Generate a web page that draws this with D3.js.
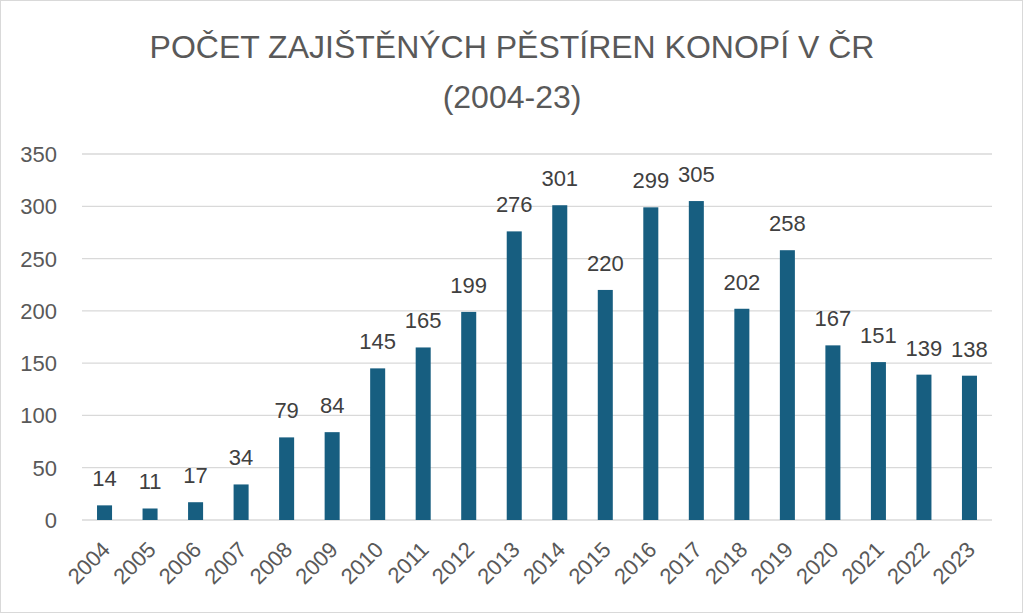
<!DOCTYPE html>
<html>
<head>
<meta charset="utf-8">
<script src="https://cdn.jsdelivr.net/npm/d3@7"></script>
<style>
  body { margin: 0; background: #fff; }
  svg { display: block; }
</style>
</head>
<body>
<svg id="chart" width="1024" height="615"></svg>
<script>
// chart data
var years = ["2004","2005","2006","2007","2008","2009","2010","2011","2012","2013",
             "2014","2015","2016","2017","2018","2019","2020","2021","2022","2023"];
var counts = [14, 11, 17, 34, 79, 84, 145, 165, 199, 276,
              301, 220, 299, 305, 202, 258, 167, 151, 139, 138];
var yTicks = [0, 50, 100, 150, 200, 250, 300, 350];
var titleLines = ["POČET ZAJIŠTĚNÝCH PĚSTÍREN KONOPÍ V ČR", "(2004-23)"];

var svg = d3.select("#chart");
var font = "'Liberation Sans', Arial, sans-serif";

// outer frame
svg.append("rect")
  .attr("x", 0.5).attr("y", 0.5)
  .attr("width", 1022).attr("height", 612)
  .attr("fill", "#fff")
  .attr("stroke", "#d9d9d9");

var plotLeft = 82, plotRight = 992, plotTop = 154, plotBottom = 520;

var xScale = d3.scaleBand().domain(years).range([plotLeft, plotRight]).paddingInner(0.67).paddingOuter(0.33);
var yScale = d3.scaleLinear().domain([0, 350]).range([plotBottom, plotTop]);

// title
svg.selectAll(".title").data(titleLines).enter().append("text")
  .attr("class", "title")
  .attr("x", 512)
  .attr("y", (d, i) => 58 + i * 50)
  .attr("text-anchor", "middle")
  .attr("font-family", font)
  .attr("font-size", 32)
  .attr("fill", "#595959")
  .text(d => d);

// grid
svg.append("g").selectAll("line").data(yTicks).enter().append("line")
  .attr("x1", plotLeft).attr("x2", plotRight)
  .attr("y1", d => yScale(d)).attr("y2", d => yScale(d))
  .attr("stroke", "#d9d9d9")
  .attr("stroke-width", 1.3);

// y labels
svg.append("g").selectAll("text").data(yTicks).enter().append("text")
  .attr("x", 57)
  .attr("y", d => yScale(d) + 8)
  .attr("text-anchor", "end")
  .attr("font-family", font)
  .attr("font-size", 22)
  .attr("fill", "#595959")
  .text(d => d);

// bars
var data = years.map((y, i) => ({ year: y, value: counts[i] }));
svg.append("g").selectAll("rect").data(data).enter().append("rect")
  .attr("x", d => xScale(d.year))
  .attr("y", d => yScale(d.value))
  .attr("width", xScale.bandwidth())
  .attr("height", d => plotBottom - yScale(d.value))
  .attr("fill", "#175e80");

// value labels
svg.append("g").selectAll("text").data(data).enter().append("text")
  .attr("x", d => xScale(d.year) + xScale.bandwidth() / 2)
  .attr("y", d => yScale(d.value) - 19)
  .attr("text-anchor", "middle")
  .attr("font-family", font)
  .attr("font-size", 22)
  .attr("fill", "#404040")
  .text(d => d.value);

// x labels
svg.append("g").selectAll("text").data(years).enter().append("text")
  .attr("transform", d => "translate(" + (xScale(d) + xScale.bandwidth() / 2 + 7) + "," + 551 + ") rotate(-45)")
  .attr("text-anchor", "end")
  .attr("font-family", font)
  .attr("font-size", 22)
  .attr("fill", "#595959")
  .text(d => d);
</script>
</body>
</html>
